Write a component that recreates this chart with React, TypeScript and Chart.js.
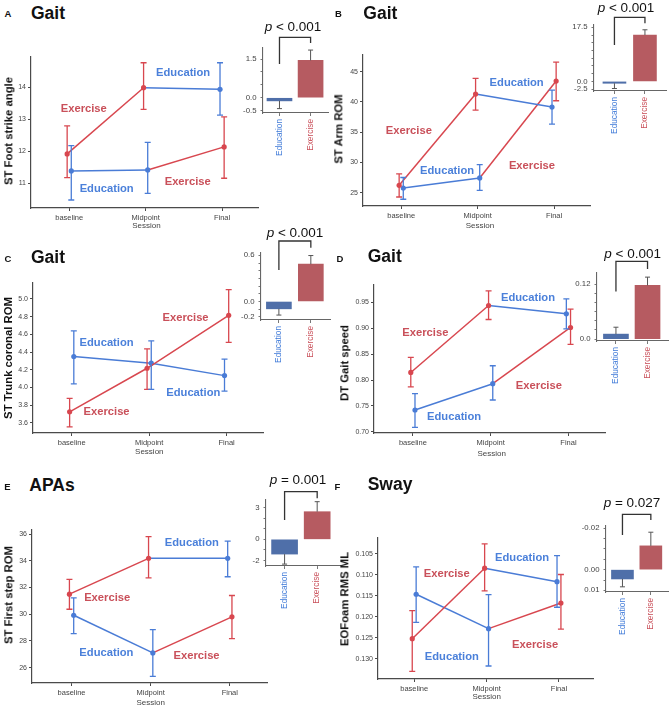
import React, { useEffect, useRef } from 'react';
import { Chart, registerables } from 'chart.js';

Chart.register(...registerables);

const FONT = "'Liberation Sans', Arial, Helvetica, sans-serif";
Chart.defaults.font.family = FONT;

// ------------------------------------------------------------------ data
const sessions = ['baseline', 'Midpoint', 'Final'];
const groups = ['Education', 'Exercise'];

// Panel A – Gait, ST Foot strike angle
const aLine1 = [11.92, 13.99, 13.94];
const aLine1Lo = [11.18, 13.31, 13.13];
const aLine1Hi = [12.8, 14.77, 14.77];
const aLine1Groups = [1, 1, 0];
const aLine2 = [11.39, 11.42, 12.14];
const aLine2Lo = [10.48, 10.69, 11.16];
const aLine2Hi = [12.18, 12.28, 13.08];
const aLine2Groups = [0, 0, 1];
const aYTicks = [11, 12, 13, 14];
const aChange = [-0.12, 1.45];
const aChangeErr = [-0.42, 1.85];
const aChangeTicks = [-0.5, 0, 0.5, 1, 1.5];
const aChangeTickLabels = ['-0.5', '0.0', '', '', '1.5'];

// Panel B – Gait, ST Arm ROM
const bLine1 = [26.2, 41.3, 39.15];
const bLine1Lo = [24.27, 38.65, 36.33];
const bLine1Hi = [28.1, 43.9, 41.97];
const bLine1Groups = [1, 1, 0];
const bLine2 = [25.76, 27.42, 43.46];
const bLine2Lo = [23.9, 25.38, 40.2];
const bLine2Hi = [27.5, 29.64, 46.6];
const bLine2Groups = [0, 0, 1];
const bYTicks = [25, 30, 35, 40, 45];
const bChange = [-0.6, 15.0];
const bChangeErr = [-2.3, 16.7];
const bChangeTicks = [-2.5, 0, 2.5, 5, 7.5, 10, 12.5, 15, 17.5];
const bChangeTickLabels = ['-2.5', '0.0', '', '', '', '', '', '', '17.5'];

// Panel C – Gait, ST Trunk coronal ROM
const cLine1 = [3.725, 4.217, 4.815];
const cLine1Lo = [3.555, 3.979, 4.51];
const cLine1Hi = [3.877, 4.437, 5.106];
const cLine1Groups = [1, 1, 1];
const cLine2 = [4.349, 4.274, 4.134];
const cLine2Lo = [4.04, 3.979, 3.96];
const cLine2Hi = [4.64, 4.527, 4.32];
const cLine2Groups = [0, 0, 0];
const cYTicks = [3.6, 3.8, 4.0, 4.2, 4.4, 4.6, 4.8, 5.0];
const cChange = [-0.095, 0.485];
const cChangeErr = [-0.176, 0.597];
const cChangeTicks = [-0.2, -0.1, 0, 0.1, 0.2, 0.3, 0.4, 0.5, 0.6];
const cChangeTickLabels = ['-0.2', '', '0.0', '', '', '', '', '', '0.6'];

// Panel D – Gait, DT Gait speed
const dLine1 = [0.8146, 0.9435, 0.9275];
const dLine1Lo = [0.787, 0.9166, 0.8987];
const dLine1Hi = [0.8435, 0.9717, 0.9563];
const dLine1Groups = [1, 1, 0];
const dLine2 = [0.7423, 0.7929, 0.9012];
const dLine2Lo = [0.709, 0.7615, 0.8685];
const dLine2Hi = [0.7737, 0.8275, 0.9365];
const dLine2Groups = [0, 0, 1];
const dYTicks = [0.7, 0.75, 0.8, 0.85, 0.9, 0.95];
const dChange = [0.011, 0.117];
const dChangeErr = [0.026, 0.135];
const dChangeTicks = [0, 0.02, 0.04, 0.06, 0.08, 0.1, 0.12];
const dChangeTickLabels = ['0.0', '', '', '', '', '', '0.12'];

// Panel E – APAs, ST First step ROM
const eLine1 = [31.5, 34.18, 34.18];
const eLine1Lo = [30.37, 32.72, 32.8];
const eLine1Hi = [32.6, 35.8, 35.47];
const eLine1Groups = [1, 1, 0];
const eLine2 = [29.92, 27.1, 29.8];
const eLine2Lo = [28.55, 25.35, 28.17];
const eLine2Hi = [31.22, 28.85, 31.4];
const eLine2Groups = [0, 0, 1];
const eYTicks = [26, 28, 30, 32, 34, 36];
const eChange = [-1.4, 2.62];
const eChangeErr = [-2.35, 3.57];
const eChangeTicks = [-2, -1, 0, 1, 2, 3];
const eChangeTickLabels = ['-2', '', '0', '', '', '3'];

// Panel F – Sway, EOFoam RMS ML
const fLine1 = [0.1252, 0.1084, 0.1116];
const fLine1Lo = [0.1185, 0.1026, 0.1054];
const fLine1Hi = [0.133, 0.1138, 0.1177];
const fLine1Groups = [1, 1, 0];
const fLine2 = [0.1146, 0.1228, 0.1167];
const fLine2Lo = [0.1081, 0.1147, 0.1099];
const fLine2Hi = [0.1213, 0.1317, 0.1229];
const fLine2Groups = [0, 0, 1];
const fYTicks = [0.105, 0.11, 0.115, 0.12, 0.125, 0.13];
const fChange = [0.0045, -0.0115];
const fChangeErr = [0.0083, -0.0181];
const fChangeTicks = [-0.02, -0.015, -0.01, -0.005, 0, 0.005, 0.01];
const fChangeTickLabels = ['-0.02', '', '', '', '0.00', '', '0.01'];

// ------------------------------------------------------------------ styles
const LINE = ['#4a7cd6', '#d8474f'];
const LABEL = ['#4b80da', '#c9505a'];
const BAR = ['#4f6fa9', '#b65b61'];
const TICKLAB = ['#3f7ad8', '#c9505a'];
const AXIS = '#4a4a4a';
const DODGE = 0.027;

const YW = 30, PT = 8, PR = 4, XH = 16;
const YWI = 26, PTI = 16, PRI = 2, XHI = 48;

function dodgeFor(group: number, session: number) {
  return (group === 1) === (session < 2) ? -DODGE : DODGE;
}

const PANELS: any[] = [
  {
    letter: 'A', title: 'Gait', yTitle: 'ST Foot strike angle', p: '< 0.001',
    lines: [
      { v: aLine1, lo: aLine1Lo, hi: aLine1Hi, g: aLine1Groups },
      { v: aLine2, lo: aLine2Lo, hi: aLine2Hi, g: aLine2Groups },
    ],
    yTicks: aYTicks, dec: 0, change: aChange, changeErr: aChangeErr,
    changeTicks: aChangeTicks, changeTickLabels: aChangeTickLabels,
    L: {
      main: { x0: 31, x1: 258, y0: 57, y1: 208, yMin: 10.23, yMax: 14.95, reverse: false },
      inset: { x0: 263, x1: 328, y0: 48, y1: 113, yMin: -0.59, yMax: 1.93, xMin: -0.53, xMax: 1.56, barW: 25, bracket: [-10.6, 16, -5], reverse: false },
      letter: [8, 13.5], title: [31, 13.5], yTitle: [8.5, 131], session: [146.5, 226], p: [293, 26.5],
      labels: [[1, 0.19, 13.32], [0, 1.49, 14.45], [0, 0.49, 10.82], [1, 1.55, 11.04]],
    },
  },
  {
    letter: 'B', title: 'Gait', yTitle: 'ST Arm ROM', p: '< 0.001',
    lines: [
      { v: bLine1, lo: bLine1Lo, hi: bLine1Hi, g: bLine1Groups },
      { v: bLine2, lo: bLine2Lo, hi: bLine2Hi, g: bLine2Groups },
    ],
    yTicks: bYTicks, dec: 0, change: bChange, changeErr: bChangeErr,
    changeTicks: bChangeTicks, changeTickLabels: bChangeTickLabels,
    L: {
      main: { x0: 363, x1: 590, y0: 55, y1: 206, yMin: 22.78, yMax: 47.77, reverse: false },
      inset: { x0: 594, x1: 666, y0: 25, y1: 91, yMin: -3.1, yMax: 18.25, xMin: -0.67, xMax: 1.69, barW: 23, bracket: [-7.7, 20, -1.7], reverse: false },
      letter: [338.5, 14], title: [363.3, 13.5], yTitle: [339, 129], session: [480, 225.7], p: [626, 7.5],
      labels: [[0, 1.51, 43.19], [1, 0.1, 35.2], [0, 0.6, 28.57], [1, 1.71, 29.4]],
    },
  },
  {
    letter: 'C', title: 'Gait', yTitle: 'ST Trunk coronal ROM', p: '< 0.001',
    lines: [
      { v: cLine1, lo: cLine1Lo, hi: cLine1Hi, g: cLine1Groups },
      { v: cLine2, lo: cLine2Lo, hi: cLine2Hi, g: cLine2Groups },
    ],
    yTicks: cYTicks, dec: 1, change: cChange, changeErr: cChangeErr,
    changeTicks: cChangeTicks, changeTickLabels: cChangeTickLabels,
    L: {
      main: { x0: 33, x1: 263, y0: 283, y1: 433, yMin: 3.486, yMax: 5.18, reverse: false },
      inset: { x0: 261, x1: 330, y0: 253, y1: 320, yMin: -0.24, yMax: 0.63, xMin: -0.56, xMax: 1.6, barW: 25, bracket: [-12, 17, -5.3], reverse: false },
      letter: [8, 258.5], title: [31, 258.3], yTitle: [8.5, 358], session: [149.3, 452.3], p: [295, 233],
      labels: [[0, 0.45, 4.506], [1, 1.47, 4.782], [0, 1.57, 3.935], [1, 0.45, 3.72]],
    },
  },
  {
    letter: 'D', title: 'Gait', yTitle: 'DT Gait speed', p: '< 0.001',
    lines: [
      { v: dLine1, lo: dLine1Lo, hi: dLine1Hi, g: dLine1Groups },
      { v: dLine2, lo: dLine2Lo, hi: dLine2Hi, g: dLine2Groups },
    ],
    yTicks: dYTicks, dec: 2, change: dChange, changeErr: dChangeErr,
    changeTicks: dChangeTicks, changeTickLabels: dChangeTickLabels,
    L: {
      main: { x0: 374, x1: 605, y0: 285, y1: 433, yMin: 0.698, yMax: 0.983, reverse: false },
      inset: { x0: 597, x1: 669, y0: 273, y1: 341, yMin: -0.004, yMax: 0.144, xMin: -0.6, xMax: 1.68, barW: 25, bracket: [-11.6, 18.4, -4], reverse: false },
      letter: [340, 259], title: [367.7, 256.7], yTitle: [345, 362.5], session: [491.7, 454], p: [632.7, 253.7],
      labels: [[1, 0.16, 0.8901], [0, 1.48, 0.9575], [0, 0.53, 0.7294], [1, 1.62, 0.7891]],
    },
  },
  {
    letter: 'E', title: 'APAs', yTitle: 'ST First step ROM', p: '= 0.001',
    lines: [
      { v: eLine1, lo: eLine1Lo, hi: eLine1Hi, g: eLine1Groups },
      { v: eLine2, lo: eLine2Lo, hi: eLine2Hi, g: eLine2Groups },
    ],
    yTicks: eYTicks, dec: 0, change: eChange, changeErr: eChangeErr,
    changeTicks: eChangeTicks, changeTickLabels: eChangeTickLabels,
    L: {
      main: { x0: 32, x1: 267, y0: 530, y1: 683, yMin: 24.85, yMax: 36.3, reverse: false },
      inset: { x0: 266, x1: 340, y0: 500, y1: 566, yMin: -2.53, yMax: 3.73, xMin: -0.57, xMax: 1.7, barW: 26, bracket: [-8.3, 20, -1.7], reverse: false },
      letter: [7.5, 486.5], title: [29.3, 485.5], yTitle: [8.5, 595], session: [150.7, 702.5], p: [298, 480],
      labels: [[1, 0.45, 31.23], [0, 1.52, 35.31], [0, 0.44, 27.12], [1, 1.58, 26.87]],
    },
  },
  {
    letter: 'F', title: 'Sway', yTitle: 'EOFoam RMS ML', p: '= 0.027',
    lines: [
      { v: fLine1, lo: fLine1Lo, hi: fLine1Hi, g: fLine1Groups },
      { v: fLine2, lo: fLine2Lo, hi: fLine2Hi, g: fLine2Groups },
    ],
    yTicks: fYTicks, dec: 3, change: fChange, changeErr: fChangeErr,
    changeTicks: fChangeTicks, changeTickLabels: fChangeTickLabels,
    L: {
      main: { x0: 378, x1: 593, y0: 538, y1: 679, yMin: 0.1012, yMax: 0.1348, reverse: true },
      inset: { x0: 606, x1: 669, y0: 526, y1: 592, yMin: -0.0211, yMax: 0.0108, xMin: -0.58, xMax: 1.64, barW: 22, bracket: [-11.7, 9, -6], reverse: true },
      letter: [337.5, 486.5], title: [367.7, 484.5], yTitle: [345, 599], session: [486.7, 697.3], p: [632, 503.3],
      labels: [[1, 0.45, 0.10985], [0, 1.49, 0.10604], [0, 0.52, 0.12949], [1, 1.67, 0.1267]],
    },
  },
];

// ------------------------------------------------------------------ chart builders
function buildMain(pn: any) {
  const m = pn.L.main;
  const datasets = pn.lines.map((line: any) => ({
    type: 'line',
    data: line.v.map((y: number, i: number) => ({ x: i + dodgeFor(line.g[i], i), y })),
    borderColor: LINE[line.g[1]],
    segment: { borderColor: (c: any) => LINE[line.g[c.p1DataIndex]] },
    borderWidth: 1.5,
    pointRadius: 2.6,
    pointHoverRadius: 2.6,
    pointBackgroundColor: line.g.map((g: number) => LINE[g]),
    pointBorderColor: line.g.map((g: number) => LINE[g]),
    pointBorderWidth: 0,
    tension: 0,
    fill: false,
  }));

  const errPlugin = {
    id: 'errBars',
    afterDatasetsDraw(chart: any) {
      const ctx = chart.ctx;
      const ys = chart.scales.y;
      pn.lines.forEach((line: any, di: number) => {
        const meta = chart.getDatasetMeta(di);
        meta.data.forEach((pt: any, j: number) => {
          const x = pt.x;
          const yl = ys.getPixelForValue(line.lo[j]);
          const yh = ys.getPixelForValue(line.hi[j]);
          ctx.save();
          ctx.strokeStyle = LINE[line.g[j]];
          ctx.lineWidth = 1.3;
          ctx.beginPath();
          ctx.moveTo(x, yl); ctx.lineTo(x, yh);
          ctx.moveTo(x - 3, yl); ctx.lineTo(x + 3, yl);
          ctx.moveTo(x - 3, yh); ctx.lineTo(x + 3, yh);
          ctx.stroke();
          ctx.restore();
        });
      });
    },
  };

  const labelPlugin = {
    id: 'groupLabels',
    afterDatasetsDraw(chart: any) {
      const ctx = chart.ctx;
      const xs = chart.scales.x, ys = chart.scales.y;
      ctx.save();
      ctx.font = `bold 11.2px ${FONT}`;
      ctx.textAlign = 'center';
      ctx.textBaseline = 'middle';
      pn.L.labels.forEach((lb: any) => {
        ctx.fillStyle = LABEL[lb[0]];
        ctx.fillText(groups[lb[0]], xs.getPixelForValue(lb[1]), ys.getPixelForValue(lb[2]));
      });
      ctx.restore();
    },
  };

  return {
    type: 'line',
    data: { datasets },
    options: {
      responsive: false,
      animation: false,
      events: [],
      layout: { padding: { top: PT, right: PR, left: 0, bottom: 0 } },
      plugins: { legend: { display: false }, tooltip: { enabled: false } },
      scales: {
        x: {
          type: 'linear', min: -0.5, max: 2.47,
          afterBuildTicks: (s: any) => { s.ticks = sessions.map((_, i) => ({ value: i })); },
          afterFit: (s: any) => { s.height = XH; },
          ticks: {
            autoSkip: false, maxRotation: 0, minRotation: 0, padding: 2, color: '#444',
            font: { size: 7.5 },
            callback: (v: any) => sessions[Math.round(v)] ?? '',
          },
          grid: { drawOnChartArea: false, drawTicks: true, tickLength: 3, color: AXIS, lineWidth: 1 },
          border: { display: true, color: AXIS, width: 1.2 },
        },
        y: {
          type: 'linear', min: m.yMin, max: m.yMax, reverse: m.reverse,
          afterBuildTicks: (s: any) => { s.ticks = pn.yTicks.map((v: number) => ({ value: v })); },
          afterFit: (s: any) => { s.width = YW; },
          ticks: {
            autoSkip: false, padding: 2, color: '#444', font: { size: 7 },
            callback: (v: any) => Number(v).toFixed(pn.dec),
          },
          grid: { drawOnChartArea: false, drawTicks: true, tickLength: 3, color: AXIS, lineWidth: 1 },
          border: { display: true, color: AXIS, width: 1.2 },
        },
      },
    },
    plugins: [errPlugin, labelPlugin],
  };
}

function buildInset(pn: any) {
  const I = pn.L.inset;
  const datasets = [{
    type: 'bar',
    data: pn.change.map((y: number, i: number) => ({ x: i, y })),
    backgroundColor: BAR,
    borderWidth: 0,
    barThickness: I.barW,
  }];

  const errPlugin = {
    id: 'insetErr',
    afterDatasetsDraw(chart: any) {
      const ctx = chart.ctx;
      const ys = chart.scales.y;
      const meta = chart.getDatasetMeta(0);
      ctx.save();
      ctx.strokeStyle = '#555';
      ctx.lineWidth = 1;
      meta.data.forEach((bar: any, j: number) => {
        const x = bar.x;
        const y0 = ys.getPixelForValue(pn.change[j]);
        const y1 = ys.getPixelForValue(pn.changeErr[j]);
        ctx.beginPath();
        ctx.moveTo(x, y0); ctx.lineTo(x, y1);
        ctx.moveTo(x - 2.5, y1); ctx.lineTo(x + 2.5, y1);
        ctx.stroke();
      });
      ctx.restore();
    },
  };

  const bracketPlugin = {
    id: 'bracket',
    afterDraw(chart: any) {
      const ctx = chart.ctx;
      const ca = chart.chartArea;
      const xs = chart.scales.x;
      const xl = xs.getPixelForValue(0), xr = xs.getPixelForValue(1);
      const [bTop, bLeft, bRight] = I.bracket;
      ctx.save();
      ctx.strokeStyle = '#333';
      ctx.lineWidth = 1.3;
      ctx.beginPath();
      ctx.moveTo(xl, ca.top + bLeft);
      ctx.lineTo(xl, ca.top + bTop);
      ctx.lineTo(xr, ca.top + bTop);
      ctx.lineTo(xr, ca.top + bRight);
      ctx.stroke();
      ctx.restore();
    },
  };

  return {
    type: 'bar',
    data: { datasets },
    options: {
      responsive: false,
      animation: false,
      events: [],
      layout: { padding: { top: PTI, right: PRI, left: 0, bottom: 0 } },
      plugins: { legend: { display: false }, tooltip: { enabled: false } },
      scales: {
        x: {
          type: 'linear', min: I.xMin, max: I.xMax, offset: false,
          afterBuildTicks: (s: any) => { s.ticks = groups.map((_, i) => ({ value: i })); },
          afterFit: (s: any) => { s.height = XHI; },
          ticks: {
            autoSkip: false, minRotation: 90, maxRotation: 90, padding: 3,
            font: { size: 8.3 },
            color: (c: any) => TICKLAB[c.index] ?? '#444',
            callback: (v: any) => groups[Math.round(v)] ?? '',
          },
          grid: { offset: false, drawOnChartArea: false, drawTicks: true, tickLength: 3, color: '#777', lineWidth: 1 },
          border: { display: true, color: '#666', width: 1.1 },
        },
        y: {
          type: 'linear', min: I.yMin, max: I.yMax, reverse: I.reverse,
          afterBuildTicks: (s: any) => { s.ticks = pn.changeTicks.map((v: number) => ({ value: v })); },
          afterFit: (s: any) => { s.width = YWI; },
          ticks: {
            autoSkip: false, padding: 4, color: '#444', font: { size: 7.8 },
            callback: (_v: any, i: number) => pn.changeTickLabels[i] ?? '',
          },
          grid: { drawOnChartArea: false, drawTicks: true, tickLength: 2.5, color: '#777', lineWidth: 1 },
          border: { display: true, color: '#666', width: 1.1 },
        },
      },
    },
    plugins: [errPlugin, bracketPlugin],
  };
}

// ------------------------------------------------------------------ components
function ChartCanvas({ rect, build }: any) {
  const ref = useRef<HTMLCanvasElement>(null);
  useEffect(() => {
    const chart = new Chart(ref.current as HTMLCanvasElement, build());
    return () => chart.destroy();
  }, []);
  return (
    <canvas
      ref={ref}
      width={rect.width}
      height={rect.height}
      style={{ position: 'absolute', left: rect.left, top: rect.top, width: rect.width, height: rect.height }}
    />
  );
}

function Txt({ x, y, children, size, bold = false, color = '#111', rotate = false, align = 'center' }: any) {
  const tx = align === 'center' ? '-50%' : '0';
  return (
    <div
      style={{
        position: 'absolute', left: x, top: y,
        transform: `translate(${tx},-50%)${rotate ? ' rotate(-90deg)' : ''}`,
        fontSize: size, fontWeight: bold ? 700 : 400, color, whiteSpace: 'nowrap',
        lineHeight: 1, fontFamily: FONT,
      }}
    >
      {children}
    </div>
  );
}

function Panel({ pn }: any) {
  const L = pn.L;
  const m = L.main, I = L.inset;
  const mainRect = {
    left: Math.round(m.x0 - YW), top: Math.round(m.y0 - PT),
    width: Math.round(m.x1 - m.x0 + YW + PR), height: Math.round(m.y1 - m.y0 + PT + XH),
  };
  const insetRect = {
    left: Math.round(I.x0 - YWI), top: Math.round(I.y0 - PTI),
    width: Math.round(I.x1 - I.x0 + YWI + PRI), height: Math.round(I.y1 - I.y0 + PTI + XHI),
  };
  return (
    <>
      <ChartCanvas rect={mainRect} build={() => buildMain(pn)} />
      <ChartCanvas rect={insetRect} build={() => buildInset(pn)} />
      <Txt x={L.letter[0]} y={L.letter[1]} size={9.5} bold>{pn.letter}</Txt>
      <Txt x={L.title[0]} y={L.title[1]} size={17.5} bold align="left">{pn.title}</Txt>
      <Txt x={L.yTitle[0]} y={L.yTitle[1]} size={11.3} bold rotate>{pn.yTitle}</Txt>
      <Txt x={L.session[0]} y={L.session[1]} size={8} color="#444">Session</Txt>
      <Txt x={L.p[0]} y={L.p[1]} size={13.5} color="#111"><i>p</i>{' ' + pn.p}</Txt>
    </>
  );
}

export default function App() {
  return (
    <div
      style={{
        position: 'absolute', left: 0, top: 0, width: 669, height: 708,
        overflow: 'hidden', background: '#fff', fontFamily: FONT,
      }}
    >
      {PANELS.map((pn) => <Panel key={pn.letter} pn={pn} />)}
    </div>
  );
}
